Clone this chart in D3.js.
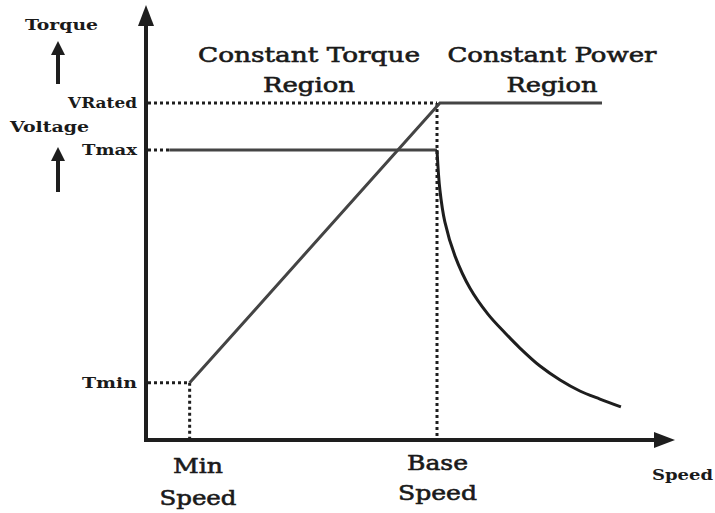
<!DOCTYPE html>
<html><head><meta charset="utf-8">
<script src="https://cdn.jsdelivr.net/npm/d3@7"></script>
<style>body{margin:0;background:#fff}svg{display:block}text{font-family:"DejaVu Serif","Liberation Serif",serif;fill:#1a1a1a}</style>
</head><body><svg id="c" width="715" height="513"></svg>
<script>
// speed units: base speed = 100 ; torque/voltage units: Tmax = 100
const speedMarks = [{name:["Min","Speed"], s:15}, {name:["Base","Speed"], s:100}];
const levelMarks = [{name:"VRated", v:116.2}, {name:"Tmax", v:100}, {name:"Tmin", v:19.7}];
const voltageSpeed = [15, 101, 156.7];
const voltageValue = [19.7, 116.2, 116.2];
const torqueSpeed = [8, 100, 101.0, 102.7, 106.2, 111.3, 117.5, 123.4, 128.5, 135.4, 142.3, 149.1, 156.0, 163.2];
const torqueValue = [100, 100, 86.2, 75.2, 63.4, 52.4, 43.4, 36.9, 31.7, 25.5, 20.7, 16.9, 14.1, 11.4];
const regionLabels = [{lines:["Constant Torque","Region"], s:58}, {lines:["Constant Power","Region"], s:139}];

const svg = d3.select("#c");
const x = d3.scaleLinear().domain([0,100]).range([146,437]);
const y = d3.scaleLinear().domain([0,100]).range([440,150]);
const dark = "#1e1e1e", line = "#444";

// axes
svg.append("line").attr("x1",x(0)).attr("y1",y(0)+2).attr("x2",x(0)).attr("y2",22)
  .attr("stroke",dark).attr("stroke-width",4);
svg.append("path").attr("d",`M${x(0)-8},26 L${x(0)},5 L${x(0)+8},26 Z`).attr("fill",dark);
svg.append("line").attr("x1",x(0)-2).attr("y1",y(0)).attr("x2",656).attr("y2",y(0))
  .attr("stroke",dark).attr("stroke-width",4);
svg.append("path").attr("d",`M654,${y(0)-8} L675,${y(0)} L654,${y(0)+8} Z`).attr("fill",dark);

// dotted guides
const dot = g => g.attr("stroke",dark).attr("stroke-width",3).attr("stroke-dasharray","3,3").attr("fill","none");
const labW = {VRated:69, Tmax:55, Tmin:55};
levelMarks.forEach(m=>{
  const sx = m.name==="VRated" ? 100 : (m.name==="Tmin" ? 15 : 8);
  svg.append("line").attr("x1",x(0)+2).attr("x2",x(sx)).attr("y1",y(m.v)).attr("y2",y(m.v)).call(dot);
  svg.append("text").attr("x",137).attr("y",y(m.v)+5).attr("text-anchor","end")
    .attr("font-size",14).attr("font-weight","bold")
    .attr("textLength",labW[m.name]).attr("lengthAdjust","spacingAndGlyphs").text(m.name);
});
svg.append("line").attr("x1",x(15)).attr("x2",x(15)).attr("y1",y(19.7)).attr("y2",y(0)).call(dot);
svg.append("line").attr("x1",x(100)).attr("x2",x(100)).attr("y1",y(116.2)).attr("y2",y(0)).call(dot);

// curves
const lg = d3.line().x(d=>x(d[0])).y(d=>y(d[1]));
svg.append("path").datum(voltageSpeed.map((s,i)=>[s,voltageValue[i]])).attr("d",lg)
  .attr("fill","none").attr("stroke",line).attr("stroke-width",3);
svg.append("path").datum(torqueSpeed.slice(0,2).map((s,i)=>[s,torqueValue[i]])).attr("d",lg)
  .attr("fill","none").attr("stroke",line).attr("stroke-width",3);
const lc = d3.line().x(d=>x(d[0])).y(d=>y(d[1])).curve(d3.curveCatmullRom.alpha(0.5));
svg.append("path").datum(torqueSpeed.slice(1).map((s,i)=>[s,torqueValue[i+1]])).attr("d",lc)
  .attr("fill","none").attr("stroke",dark).attr("stroke-width",3);

// region labels
const regW = [[222,92],[209,91]];
const regX = [[309,309],[552,552]];
regionLabels.forEach((r,k)=>{
  r.lines.forEach((t,i)=>{
    svg.append("text").attr("x",regX[k][i]).attr("y",62+i*30).attr("text-anchor","middle")
      .attr("font-size",21).attr("stroke","#1a1a1a").attr("stroke-width",0.6)
      .attr("textLength",regW[k][i]).attr("lengthAdjust","spacingAndGlyphs").text(t);
  });
});

// speed labels
const spX = [[198,198],[437.5,437.5]], spY=[[473,505],[470,500]], spW=[[50,77],[61,79]];
speedMarks.forEach((m,k)=>{
  m.name.forEach((t,i)=>{
    svg.append("text").attr("x",spX[k][i]).attr("y",spY[k][i]).attr("text-anchor","middle")
      .attr("font-size",21).attr("stroke","#1a1a1a").attr("stroke-width",0.6)
      .attr("textLength",spW[k][i]).attr("lengthAdjust","spacingAndGlyphs").text(t);
  });
});
svg.append("text").attr("x",682.5).attr("y",480).attr("text-anchor","middle").attr("font-size",14)
  .attr("font-weight","bold").attr("textLength",61).attr("lengthAdjust","spacingAndGlyphs").text("Speed");

// left labels
svg.append("text").attr("x",61.5).attr("y",30).attr("text-anchor","middle").attr("font-size",15).attr("font-weight","bold")
  .attr("textLength",73).attr("lengthAdjust","spacingAndGlyphs").text("Torque");
svg.append("text").attr("x",49.5).attr("y",132).attr("text-anchor","middle").attr("font-size",15).attr("font-weight","bold")
  .attr("textLength",79).attr("lengthAdjust","spacingAndGlyphs").text("Voltage");
[[58,84,42],[58,192,148]].forEach(a=>{
  svg.append("line").attr("x1",a[0]).attr("x2",a[0]).attr("y1",a[1]).attr("y2",a[2]+8).attr("stroke",dark).attr("stroke-width",4);
  svg.append("path").attr("d",`M${a[0]-7},${a[2]+13} L${a[0]},${a[2]-1} L${a[0]+7},${a[2]+13} Z`).attr("fill",dark);
});
</script></body></html>
